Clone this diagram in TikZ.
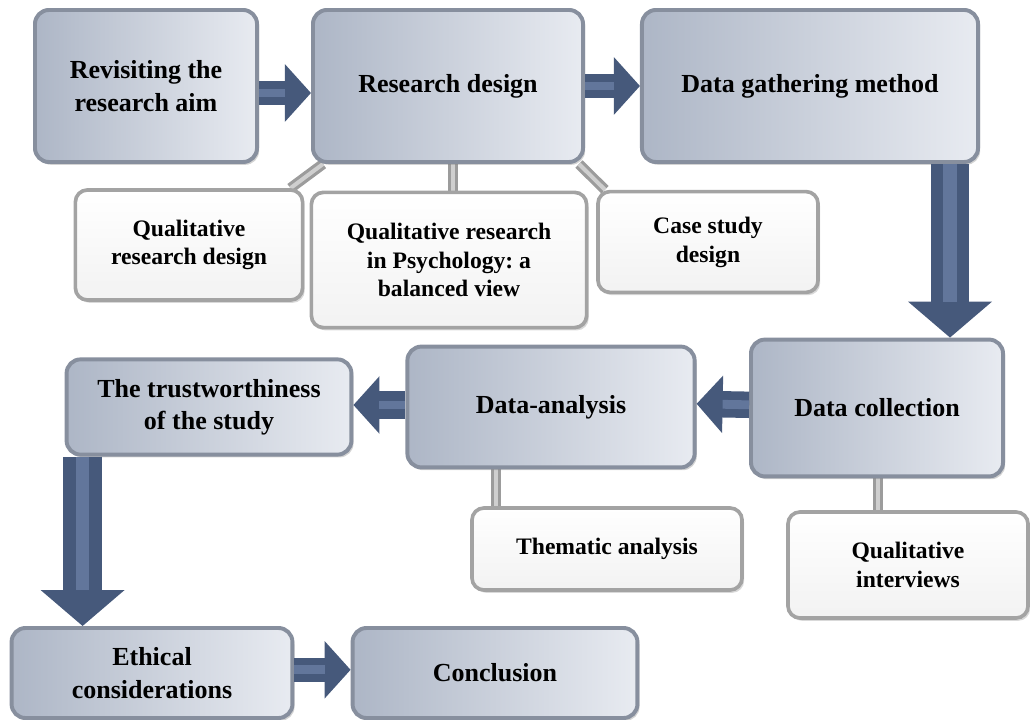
\documentclass[tikz,border=0pt]{standalone}
\usepackage{fontspec}
\setmainfont{Liberation Serif}
\usetikzlibrary{arrows.meta,shadows,backgrounds}
\definecolor{boxleft}{HTML}{ADB6C6}
\definecolor{boxright}{HTML}{E8EBF1}
\definecolor{boxedge}{HTML}{878F9E}
\definecolor{subedge}{HTML}{A3A3A3}
\definecolor{arrowdark}{HTML}{46597B}
\definecolor{arrowhi}{HTML}{62769B}
\definecolor{barmid}{HTML}{9C9C9C}
\definecolor{barhi}{HTML}{CFCFCF}
\tikzset{
  mainbox/.style={rectangle, rounded corners=0.35cm, draw=boxedge, line width=2.8pt,
    left color=boxleft, right color=boxright, align=center, inner sep=0pt,
    drop shadow={shadow xshift=1.5pt, shadow yshift=-2pt, opacity=0.35},
    font=\bfseries\fontsize{18.5}{23}\selectfont},
  subbox/.style={rectangle, rounded corners=0.3cm, draw=subedge, line width=2.6pt,
    top color=white, bottom color=gray!10, align=center, inner sep=0pt,
    drop shadow={shadow xshift=1.5pt, shadow yshift=-2pt, opacity=0.3},
    font=\bfseries\fontsize{16.8}{20.5}\selectfont},
  flowarrow/.style={draw=arrowdark, line width=0.6cm,
    -{Triangle[length=0.65cm,width=1.4cm]},
    postaction={draw=arrowhi, line width=0.22cm, -, shorten >=0.65cm}},
  downarrow/.style={draw=arrowdark, line width=0.97cm,
    -{Triangle[length=0.9cm,width=2.05cm]},
    postaction={draw=arrowhi, line width=0.34cm, -, shorten >=0.9cm}},
  linkbar/.style={draw=barmid, line width=0.26cm,
    postaction={draw=barhi, line width=0.1cm}}
}
\begin{document}
\frenchspacing
\begin{tikzpicture}[x=0.025cm, y=-0.025cm]
\useasboundingbox (0,0) rectangle (1030,720);

% main steps
\node[mainbox, minimum width=5.55cm, minimum height=3.8cm] (rev) at (146,86) {Revisiting the\\research aim};
\node[mainbox, minimum width=6.75cm, minimum height=3.8cm] (res) at (448,86) {Research design};
\node[mainbox, minimum width=8.4cm, minimum height=3.8cm] (gath) at (810,86) {Data gathering method};
\node[mainbox, minimum width=6.3cm, minimum height=3.42cm] (coll) at (877,408) {Data collection};
\node[mainbox, minimum width=7.18cm, minimum height=3.02cm] (ana) at (551,407) {Data-analysis};
\node[mainbox, minimum width=7.12cm, minimum height=2.38cm] (trust) at (209,407) {The trustworthiness\\of the study};
\node[mainbox, minimum width=7.02cm, minimum height=2.25cm] (eth) at (152,673) {Ethical\\considerations};
\node[mainbox, minimum width=7.12cm, minimum height=2.25cm] (conc) at (495,673) {Conclusion};

% sub topics
\node[subbox, minimum width=5.68cm, minimum height=2.75cm] (qrd) at (189,245) {Qualitative\\research design};
\node[subbox, minimum width=6.88cm, minimum height=3.38cm] (qrp) at (449,260) {Qualitative research\\in Psychology: a\\balanced view};
\node[subbox, minimum width=5.5cm, minimum height=2.52cm] (csd) at (708,242) {Case study\\design};
\node[subbox, minimum width=6.75cm, minimum height=2.05cm] (them) at (607,549) {Thematic analysis};
\node[subbox, minimum width=6.0cm, minimum height=2.65cm] (qi) at (908,565) {Qualitative\\interviews};

% links behind the boxes
\begin{scope}[on background layer]
\draw[linkbar] ([xshift=0.3cm]res.south west) -- ([xshift=-0.35cm]qrd.north east);
\draw[linkbar] ([xshift=0.1cm]qrp.north) -- ([xshift=0.1cm]qrp.north |- res.south);
\draw[linkbar] ([xshift=-0.15cm]res.south east) -- ([xshift=0.22cm]csd.north west);
\draw[linkbar] ([xshift=0.65cm]them.north west) -- ([xshift=0.65cm]them.north west |- ana.south);
\draw[linkbar] ([xshift=2.3cm]qi.north west) -- ([xshift=2.3cm]qi.north west |- coll.south);
\end{scope}

% flow
\draw[flowarrow] ([yshift=-1.75mm]rev.east) -- ([yshift=-1.75mm]res.west);
\draw[flowarrow] (res.east) -- (gath.west);
\draw[downarrow] ([xshift=-7.5mm]gath.south east) -- ([xshift=-7.5mm]gath.south east |- coll.north);
\draw[flowarrow, line width=0.66cm] ([yshift=0.08cm]coll.west) -- ([yshift=0.08cm]ana.east);
\draw[flowarrow, line width=0.68cm] ([yshift=0.05cm]ana.west) -- ([yshift=0.05cm]trust.east);
\draw[downarrow] ([xshift=4.5mm]trust.south west) -- ([xshift=4.5mm]trust.south west |- eth.north);
\draw[flowarrow] ([yshift=0.08cm]eth.east) -- ([yshift=0.08cm]conc.west);
\end{tikzpicture}
\end{document}
